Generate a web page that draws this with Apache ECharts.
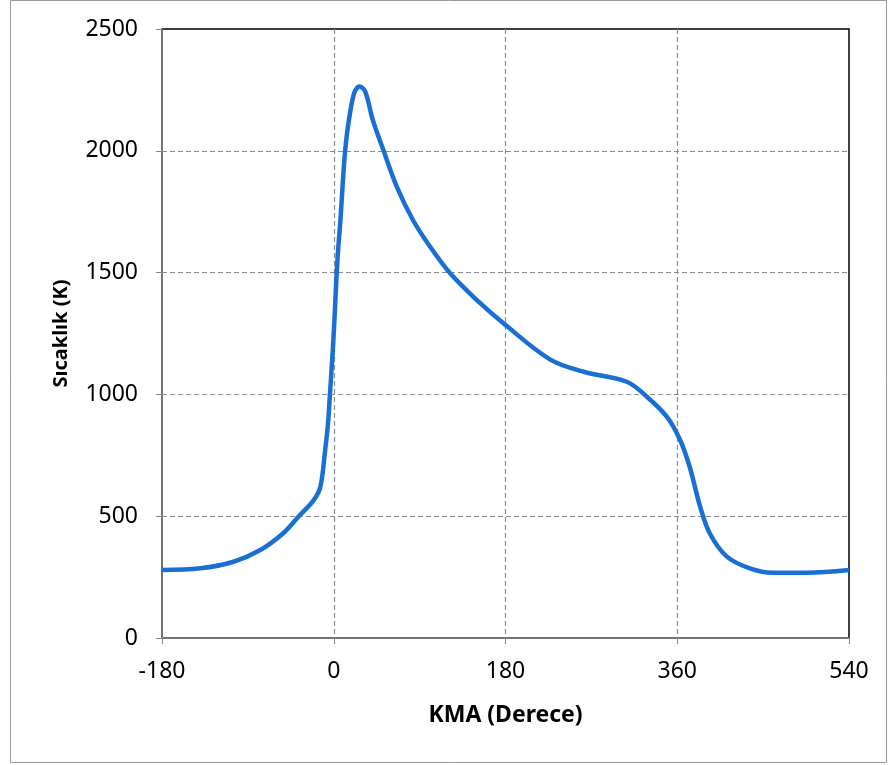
<!DOCTYPE html>
<html>
<head>
<meta charset="utf-8">
<script src="https://cdn.jsdelivr.net/npm/echarts@6/dist/echarts.min.js"></script>
<style>
  html, body { margin: 0; padding: 0; background: #fff; }
  #chart { width: 891px; height: 765px; }
</style>
</head>
<body>
<div id="chart"></div>
<script>
// KMA (crank angle, derece) and temperature (K)
var kma = [-180, -140, -105, -77, -53, -37, -21, -14, -9, -6, -4, -1, 1, 4, 7, 12, 17, 22, 27, 33,
           41, 52, 66, 83, 101, 122, 150, 180, 227, 262, 307, 328, 349, 363, 373, 384, 394, 412,
           436, 460, 496, 540]
var sicaklik = [279, 286, 313, 361, 430, 498, 566, 621, 772, 881, 1000, 1182, 1330, 1560, 1716, 2003, 2154, 2243, 2264, 2243,
                2126, 2003, 1853, 1716, 1606, 1497, 1387, 1285, 1143, 1093, 1052, 991, 909, 813, 703, 539, 430, 334,
                286, 268, 268, 279]
var xTicks = [-180, 0, 180, 360, 540]

var chart = echarts.init(document.getElementById('chart'))

var points = kma.map(function (k, i) { return [k, sicaklik[i]] })
var font = '"Noto Sans", sans-serif'

var option = {
    backgroundColor: '#fff',
    animation: false,
    graphic: [{
        type: 'rect',
        left: 8, top: -2,
        shape: { width: 876, height: 762 },
        style: { fill: 'none', stroke: '#9a9a9a', lineWidth: 1 },
        silent: true
    }],
    grid: {
        left: 162, right: 42, top: 29, bottom: 127,
        show: true,
        borderColor: '#000',
        borderWidth: 1.5
    },
    xAxis: {
        type: 'value',
        min: -180, max: 540, interval: 180,
        name: 'KMA (Derece)',
        nameLocation: 'middle',
        nameGap: 66,
        nameTextStyle: { fontFamily: font, fontSize: 23, fontWeight: 'bold', color: '#000' },
        axisLine: { onZero: false, lineStyle: { color: '#868686', width: 1.5 } },
        axisTick: { show: true, length: 6, lineStyle: { color: '#868686' } },
        axisLabel: {
            margin: 22, fontFamily: font, fontSize: 23, color: '#000',
            formatter: function (v) { return xTicks.indexOf(v) >= 0 ? String(v) : '' }
        },
        splitLine: {
            show: true, showMinLine: false, showMaxLine: false,
            lineStyle: { color: '#8c8c8c', type: [5, 3], width: 1.2 }
        }
    },
    yAxis: {
        type: 'value',
        min: 0, max: 2500, interval: 500,
        name: 'Sıcaklık (K)',
        nameLocation: 'middle',
        nameGap: 91,
        nameRotate: 90,
        nameTextStyle: { fontFamily: font, fontSize: 20, fontWeight: 'bold', color: '#000' },
        axisLine: { show: true, onZero: false, lineStyle: { color: '#868686', width: 1.5 } },
        axisTick: { show: true, length: 6, lineStyle: { color: '#868686' } },
        axisLabel: {
            margin: 24, fontFamily: font, fontSize: 23, color: '#000',
            formatter: function (v) { return String(v) }
        },
        splitLine: {
            show: true, showMinLine: false, showMaxLine: false,
            lineStyle: { color: '#8c8c8c', type: [5, 3], width: 1.2 }
        }
    },
    series: [{
        type: 'line',
        data: points,
        showSymbol: false,
        smooth: 0.35,
        lineStyle: { color: '#1a6fd4', width: 4.5 },
        clip: false
    }]
}
chart.setOption(option)
</script>
</body>
</html>
